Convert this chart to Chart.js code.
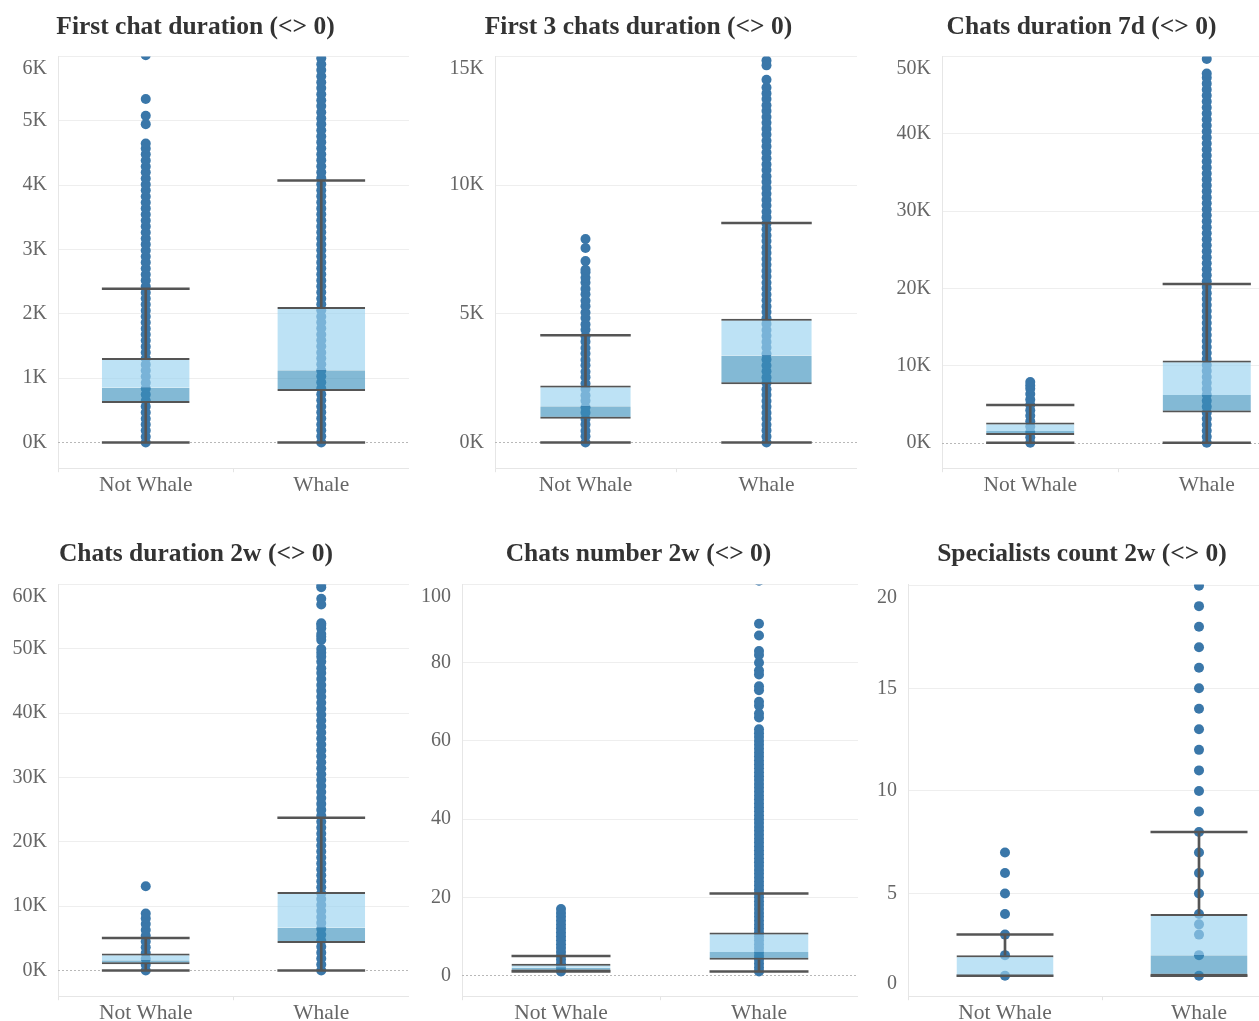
<!DOCTYPE html>
<html>
<head>
<meta charset="utf-8">
<script src="https://cdn.jsdelivr.net/npm/chart.js@4.4.1/dist/chart.umd.min.js"></script>
<style>
  html, body { margin: 0; padding: 0; background: #fff; overflow: hidden; }
  body { width: 1259px; height: 1021px; position: relative; }
  canvas { position: absolute; }
</style>
</head>
<body>
<canvas id="c1"></canvas>
<canvas id="c2"></canvas>
<canvas id="c3"></canvas>
<canvas id="c4"></canvas>
<canvas id="c5"></canvas>
<canvas id="c6"></canvas>
<script>
// categories shared by every panel
const categories = ['Not Whale', 'Whale'];

const titles = [
    'First chat duration (<> 0)',
    'First 3 chats duration (<> 0)',
    'Chats duration 7d (<> 0)',
    'Chats duration 2w (<> 0)',
    'Chats number 2w (<> 0)',
    'Specialists count 2w (<> 0)'
];

// box stats per category: [lower whisker, q1, median, q3, upper whisker]
const firstChatStats = [[0, 613, 851, 1314, 2392], [0, 799, 1124, 2108, 4072]];
const first3Stats = [[0, 920, 1410, 2210, 4170], [0, 2260, 3380, 4810, 8530]];
const dur7dStats = [[0, 1000, 1510, 2620, 4900], [0, 3900, 6180, 10640, 20560]];
const dur2wStats = [[0, 980, 1600, 2630, 5050], [0, 4280, 6650, 12200, 23760]];
const num2wStats = [[1, 1, 2, 3, 5], [1, 4, 6, 11, 21]];
const spec2wStats = [[1, 1, 1, 2, 3], [1, 1, 2, 4, 8]];

// individual marks
const firstChatNotWhale = [0, 90, 185, 280, 370, 465, 560, 650, 745, 840, 930, 1025, 1120, 1210, 1305,
    1400, 1490, 1585, 1680, 1770, 1865, 1960, 2050, 2145, 2240, 2330, 2425, 2520, 2610, 2705, 2800,
    2890, 2985, 3080, 3170, 3265, 3360, 3450, 3545, 3640, 3730, 3825, 3920, 4010, 4105, 4200, 4290,
    4385, 4480, 4570, 4650, 4950, 5080, 5340, 6020];
const firstChatWhale = [0, 95, 190, 280, 375, 470, 560, 655, 750, 840, 935, 1030, 1120, 1215, 1310,
    1400, 1495, 1590, 1680, 1775, 1870, 1960, 2055, 2150, 2240, 2335, 2430, 2520, 2615, 2710, 2800,
    2895, 2990, 3080, 3175, 3270, 3360, 3455, 3550, 3640, 3735, 3830, 3920, 4015, 4110, 4200, 4295,
    4390, 4480, 4575, 4670, 4760, 4855, 4950, 5040, 5135, 5230, 5320, 5415, 5510, 5600, 5695, 5790,
    5880, 5975];

const first3NotWhale = [0, 240, 450, 700, 910, 1160, 1370, 1620, 1830, 2080, 2290, 2540, 2750, 3000,
    3210, 3460, 3670, 3920, 4130, 4380, 4590, 4840, 5050, 5300, 5510, 5760, 5970, 6220, 6400, 6620,
    6710, 7050, 7560, 7910];
const first3Whale = [0, 230, 470, 690, 930, 1150, 1390, 1610, 1850, 2070, 2310, 2530, 2770, 2990,
    3230, 3450, 3690, 3910, 4150, 4370, 4610, 4830, 5070, 5290, 5530, 5750, 5990, 6210, 6450, 6670,
    6910, 7130, 7370, 7590, 7830, 8050, 8290, 8510, 8750, 8970, 9210, 9430, 9670, 9890, 10130,
    10350, 10590, 10810, 11050, 11270, 11510, 11730, 11970, 12190, 12430, 12650, 12890, 13110,
    13350, 13570, 13800, 14100, 14660, 14850];

const dur7dNotWhale = [0, 700, 1390, 2100, 2790, 3500, 4190, 4900, 5590, 6300, 6990, 7420, 7850];
const dur7dWhale = [0, 770, 1550, 2320, 3100, 3870, 4650, 5420, 6200, 6970, 7750, 8520, 9300, 10070,
    10850, 11620, 12400, 13170, 13950, 14720, 15500, 16270, 17050, 17820, 18600, 19370, 20150,
    20920, 21700, 22470, 23250, 24020, 24800, 25570, 26350, 27120, 27900, 28670, 29450, 30220,
    31000, 31770, 32550, 33320, 34100, 34870, 35650, 36420, 37200, 37970, 38750, 39520, 40300,
    41070, 41850, 42620, 43400, 44170, 44950, 45720, 46500, 47270, 47800, 49700];

const dur2wNotWhale = [0, 900, 1810, 2700, 3610, 4500, 5410, 6300, 7210, 8100, 8850, 13100];
const dur2wWhale = [0, 920, 1850, 2770, 3700, 4620, 5550, 6470, 7400, 8320, 9250, 10170, 11100,
    12020, 12950, 13870, 14800, 15720, 16650, 17570, 18500, 19420, 20350, 21270, 22200, 23120,
    24050, 24970, 25900, 26820, 27750, 28670, 29600, 30520, 31450, 32370, 33300, 34220, 35150,
    36070, 37000, 37920, 38850, 39770, 40700, 41620, 42550, 43470, 44400, 45320, 46250, 47000,
    48000, 48800, 49400, 50000, 51400, 51900, 52300, 53200, 53700, 54000, 56900, 57800, 59600,
    60000];

const num2wNotWhale = [1, 2, 3, 4, 5, 6, 7, 8, 9, 10, 11, 12, 13, 14, 15, 16, 17];
const num2wWhale = [1, 2, 3, 4, 5, 6, 7, 8, 9, 10, 11, 12, 13, 14, 15, 16, 17, 18, 19, 20, 21, 22,
    23, 24, 25, 26, 27, 28, 29, 30, 31, 32, 33, 34, 35, 36, 37, 38, 39, 40, 41, 42, 43, 44, 45, 46,
    47, 48, 49, 50, 51, 52, 53, 54, 55, 56, 57, 58, 59, 60, 61, 62, 63, 66, 67, 69, 70, 73, 74, 77,
    78, 80, 82, 83, 87, 90, 101];

const spec2wNotWhale = [1, 2, 3, 4, 5, 6, 7];
const spec2wWhale = [1, 2, 3, 3.5, 4, 5, 6, 7, 8, 9, 10, 11, 12, 13, 14, 15, 16, 17, 18, 19, 20];

// y tick values and axis ranges
const firstChatTicks = [0, 1000, 2000, 3000, 4000, 5000, 6000];
const first3Ticks = [0, 5000, 10000, 15000];
const dur7dTicks = [0, 10000, 20000, 30000, 40000, 50000];
const dur2wTicks = [0, 10000, 20000, 30000, 40000, 50000, 60000];
const num2wTicks = [0, 20, 40, 60, 80, 100];
const spec2wTicks = [0, 5, 10, 15, 20];

const yRanges = [[-400, 6000], [-1000, 15000], [-3300, 50000], [-4000, 60000], [-5.3, 100], [0, 20.05]];

const kFmt = v => (v / 1000) + 'K';
const plainFmt = v => String(v);

// canvas placement: left, top, width, height, y-axis width, title padding top/bottom
const layoutBoxes = [
    [-18, 0, 427, 498, 76, 12, 14],
    [420, 0, 437, 498, 75, 12, 14],
    [868, 0, 427, 498, 74, 12, 14],
    [-17, 520, 426, 506, 75, 19, 15],
    [419, 520, 439, 506, 43, 19, 15],
    [868, 520, 428, 506, 40, 19, 15]
];

const panels = [
    { stats: firstChatStats, nw: firstChatNotWhale, w: firstChatWhale, ticks: firstChatTicks, fmt: kFmt },
    { stats: first3Stats, nw: first3NotWhale, w: first3Whale, ticks: first3Ticks, fmt: kFmt },
    { stats: dur7dStats, nw: dur7dNotWhale, w: dur7dWhale, ticks: dur7dTicks, fmt: kFmt },
    { stats: dur2wStats, nw: dur2wNotWhale, w: dur2wWhale, ticks: dur2wTicks, fmt: kFmt },
    { stats: num2wStats, nw: num2wNotWhale, w: num2wWhale, ticks: num2wTicks, fmt: plainFmt },
    { stats: spec2wStats, nw: spec2wNotWhale, w: spec2wWhale, ticks: spec2wTicks, fmt: plainFmt }
];

const serif = "'Liberation Serif', 'Times New Roman', serif";
const dotColor = '#3a77a9';
const lineColor = '#555555';

// dotted line at zero, as Tableau draws it
const zeroLine = {
    id: 'zeroLine',
    beforeDatasetsDraw(chart) {
        const area = chart.chartArea;
        const y = chart.scales.y.getPixelForValue(0);
        if (y < area.top || y > area.bottom - 1) return;
        const ctx = chart.ctx;
        ctx.save();
        ctx.strokeStyle = '#b8b8b8';
        ctx.lineWidth = 1;
        ctx.setLineDash([2, 2]);
        ctx.beginPath();
        ctx.moveTo(area.left, Math.round(y) + 0.5);
        ctx.lineTo(area.right, Math.round(y) + 0.5);
        ctx.stroke();
        ctx.restore();
    }
};

panels.forEach((p, i) => {
    const box = layoutBoxes[i];
    const range = yRanges[i];
    const canvas = document.getElementById('c' + (i + 1));
    canvas.width = box[2];
    canvas.height = box[3];
    canvas.style.left = box[0] + 'px';
    canvas.style.top = box[1] + 'px';

    // cap half-length = half of the box width (box is half a category wide)
    const capRadius = (box[2] - box[4]) / 8;

    const dots = p.nw.map(v => ({ x: categories[0], y: v }))
        .concat(p.w.map(v => ({ x: categories[1], y: v })));
    const caps = [];
    p.stats.forEach((s, k) => {
        caps.push({ x: categories[k], y: s[0] });
        caps.push({ x: categories[k], y: s[4] });
    });

    // labels sitting on the pane edge are nudged inside, like Tableau does
    const tickLabel = v => {
        const t = p.fmt(v);
        const span = range[1] - range[0];
        if ((range[1] - v) / span < 0.01) return ['', t];
        if ((v - range[0]) / span < 0.01) return [t, ''];
        return t;
    };

    new Chart(canvas, {
        type: 'bar',
        data: {
            labels: categories,
            datasets: [
                {
                    type: 'line',
                    label: 'values',
                    data: dots,
                    showLine: false,
                    pointRadius: 5,
                    pointBackgroundColor: dotColor,
                    pointBorderWidth: 0,
                    clip: 0,
                    order: 5
                },
                {
                    label: 'upper whisker',
                    data: p.stats.map(s => [s[3], s[4]]),
                    backgroundColor: lineColor,
                    barThickness: 2,
                    grouped: false,
                    order: 4
                },
                {
                    label: 'lower whisker',
                    data: p.stats.map(s => [s[0], s[1]]),
                    backgroundColor: lineColor,
                    barThickness: 2,
                    grouped: false,
                    order: 4
                },
                {
                    label: 'lower box',
                    data: p.stats.map(s => [s[1], s[2]]),
                    backgroundColor: 'rgba(58, 144, 189, 0.63)',
                    borderColor: lineColor,
                    borderWidth: { top: 0, right: 0, bottom: 2, left: 0 },
                    borderSkipped: false,
                    barPercentage: 0.5,
                    categoryPercentage: 1,
                    grouped: false,
                    order: 3
                },
                {
                    label: 'upper box',
                    data: p.stats.map(s => [s[2], s[3]]),
                    backgroundColor: 'rgba(155, 211, 240, 0.66)',
                    borderColor: lineColor,
                    borderWidth: { top: 2, right: 0, bottom: 0, left: 0 },
                    borderSkipped: false,
                    barPercentage: 0.5,
                    categoryPercentage: 1,
                    grouped: false,
                    order: 3
                },
                {
                    type: 'line',
                    label: 'whisker caps',
                    data: caps,
                    showLine: false,
                    pointStyle: 'line',
                    pointRadius: capRadius,
                    pointBorderColor: lineColor,
                    pointBorderWidth: 2.5,
                    order: 1
                }
            ]
        },
        options: {
            responsive: false,
            animation: false,
            events: [],
            layout: { padding: 0, autoPadding: false },
            plugins: {
                legend: { display: false },
                tooltip: { enabled: false },
                title: {
                    display: true,
                    text: titles[i],
                    color: '#333333',
                    font: { family: serif, size: 25.5, weight: 'bold' },
                    padding: { top: box[5], bottom: box[6] }
                }
            },
            scales: {
                x: {
                    type: 'category',
                    offset: true,
                    grid: {
                        display: true,
                        drawOnChartArea: false,
                        drawTicks: true,
                        tickLength: 4,
                        color: '#e4e4e4',
                        offset: true
                    },
                    border: { display: true, color: '#e6e6e6' },
                    ticks: {
                        color: '#666666',
                        font: { family: serif, size: 21.5 },
                        padding: 0,
                        maxRotation: 0
                    }
                },
                y: {
                    min: range[0],
                    max: range[1],
                    afterBuildTicks: s => { s.ticks = p.ticks.map(v => ({ value: v })); },
                    afterFit: s => {
                        s.width = box[4];
                        s.paddingTop = 0;
                        s.paddingBottom = 0;
                    },
                    grid: {
                        color: c => (c.tick && c.tick.value === 0) ? 'rgba(0,0,0,0)' : '#eeeeee',
                        drawTicks: false
                    },
                    border: { display: true, color: '#e6e6e6' },
                    ticks: {
                        color: '#666666',
                        font: { family: serif, size: 20 },
                        padding: 11,
                        callback: tickLabel
                    }
                }
            }
        },
        plugins: [zeroLine]
    });
});
</script>
</body>
</html>
